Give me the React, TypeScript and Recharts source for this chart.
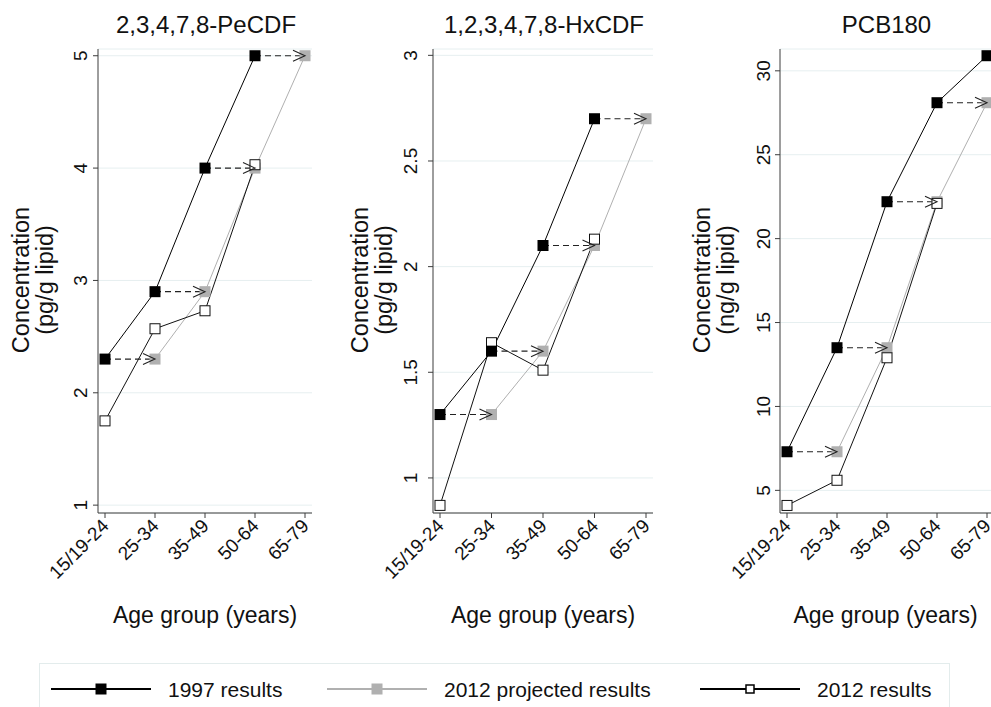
import React from 'react';
import { LineChart, Line, XAxis, YAxis, CartesianGrid } from 'recharts';

const AGE_GROUPS = ['15/19-24', '25-34', '35-49', '50-64', '65-79'];

// 2,3,4,7,8-PeCDF (pg/g lipid)
const PECDF_1997 = [2.3, 2.9, 4.0, 5.0, null];
const PECDF_PROJECTED = [null, 2.3, 2.9, 4.0, 5.0];
const PECDF_2012 = [1.75, 2.57, 2.73, 4.03, null];

// 1,2,3,4,7,8-HxCDF (pg/g lipid)
const HXCDF_1997 = [1.3, 1.6, 2.1, 2.7, null];
const HXCDF_PROJECTED = [null, 1.3, 1.6, 2.1, 2.7];
const HXCDF_2012 = [0.87, 1.64, 1.51, 2.13, null];

// PCB180 (ng/g lipid)
const PCB180_1997 = [7.3, 13.5, 22.2, 28.1, 30.9];
const PCB180_PROJECTED = [null, 7.3, 13.5, 22.2, 28.1];
const PCB180_2012 = [4.1, 5.6, 12.9, 22.1, null];

const PECDF_TICKS = [1, 2, 3, 4, 5];
const HXCDF_TICKS = [1, 1.5, 2, 2.5, 3];
const PCB180_TICKS = [5, 10, 15, 20, 25, 30];

const FONT = '"Liberation Sans", Arial, Helvetica, sans-serif';
const AXIS_COLOR = '#3c3c3c';
const GRID_COLOR = '#e6eff0';
const GREY = '#b0b0b0';
const CHART_H = 650;
const PLOT_TOP = 49;
const PLOT_BOTTOM = 513;

type Val = number | null;
type Row = Record<string, string | number | null>;

// one row per age group; shiftK holds the 1997 -> projected arrow k
function buildRows(r1997: Val[], projected: Val[], r2012: Val[]): Row[] {
  return AGE_GROUPS.map((age, i) => {
    const row: Row = { age, r1997: r1997[i], projected: projected[i], r2012: r2012[i] };
    for (let k = 0; k < AGE_GROUPS.length - 1; k++) {
      row[`shift${k}`] = i === k ? r1997[k] : i === k + 1 ? projected[k + 1] : null;
    }
    return row;
  });
}

const squareDot = (fill: string, stroke: string, size: number) => (props: any) => {
  const { cx, cy, index } = props;
  if (cx == null || cy == null || Number.isNaN(cy)) return <g key={`e${index}`} />;
  return (
    <rect
      key={`s${index}`}
      x={cx - size / 2}
      y={cy - size / 2}
      width={size}
      height={size}
      fill={fill}
      stroke={stroke}
      strokeWidth={stroke === 'none' ? 0 : 1}
    />
  );
};

const arrowHead = (end: number) => (props: any) => {
  const { cx, cy, index } = props;
  if (index !== end || cx == null || cy == null || Number.isNaN(cy)) return <g key={`e${index}`} />;
  return (
    <path
      key={`a${index}`}
      d={`M${cx - 12},${cy - 5.5} L${cx},${cy} L${cx - 12},${cy + 5.5}`}
      fill="none"
      stroke="#222"
      strokeWidth={1.1}
    />
  );
};

const XTick = (props: any) => {
  const { x, y, payload } = props;
  return (
    <g transform={`translate(${x + 5},${y + 7}) rotate(-45)`}>
      <text textAnchor="end" fontSize={19} fontFamily={FONT} fill="#111">
        {payload.value}
      </text>
    </g>
  );
};

const YTick = (props: any) => {
  const { x, y, payload } = props;
  const bx = x - 4;
  return (
    <text
      x={bx}
      y={y}
      transform={`rotate(-90, ${bx}, ${y})`}
      textAnchor="middle"
      fontSize={19}
      fontFamily={FONT}
      fill="#111"
    >
      {payload.value}
    </text>
  );
};

interface PanelProps {
  title: string;
  unit: string;
  rows: Row[];
  domain: [number, number];
  ticks: number[];
  left: number;
  width: number;
  axisWidth: number;
  marginRight: number;
  padRight: number;
  tickMargin: number;
  yTitleX: number;
}

function Panel(p: PanelProps) {
  const plotCenter = p.axisWidth + (p.width - p.axisWidth - p.marginRight) / 2;
  const arrows = AGE_GROUPS.slice(0, -1)
    .map((_, k) => k)
    .filter((k) => p.rows[k][`shift${k}`] != null && p.rows[k + 1][`shift${k}`] != null);

  return (
    <div style={{ position: 'absolute', left: p.left, top: 0, width: p.width, height: CHART_H }}>
      <svg width={p.width} height={40} style={{ position: 'absolute', left: 0, top: 0 }}>
        <text x={plotCenter + 1} y={33} textAnchor="middle" fontSize={24} fontFamily={FONT} fill="#111">
          {p.title}
        </text>
      </svg>
      <div style={{ position: 'absolute', left: 0, top: 0 }}>
        <LineChart
          width={p.width}
          height={CHART_H}
          data={p.rows}
          margin={{ top: PLOT_TOP, right: p.marginRight, bottom: 0, left: 0 }}
        >
          <CartesianGrid vertical={false} stroke={GRID_COLOR} strokeWidth={1} />
          <XAxis
            dataKey="age"
            padding={{ left: 7, right: p.padRight }}
            height={CHART_H - PLOT_BOTTOM}
            interval={0}
            tickSize={5}
            tickMargin={2}
            stroke={AXIS_COLOR}
            tickLine={{ stroke: AXIS_COLOR }}
            tick={<XTick />}
            label={(lp: any) => {
              const vb = lp.viewBox;
              return (
                <text
                  x={vb.x + vb.width / 2}
                  y={vb.y + 110}
                  textAnchor="middle"
                  fontSize={23}
                  fontFamily={FONT}
                  fill="#111"
                >
                  Age group (years)
                </text>
              );
            }}
          />
          <YAxis
            type="number"
            domain={p.domain}
            ticks={p.ticks}
            interval={0}
            width={p.axisWidth}
            tickSize={5}
            tickMargin={p.tickMargin}
            stroke={AXIS_COLOR}
            tickLine={{ stroke: AXIS_COLOR }}
            tick={<YTick />}
            label={(lp: any) => {
              const vb = lp.viewBox;
              const cy = vb.y + vb.height / 2 - 1;
              const bx = vb.x + p.yTitleX;
              return (
                <text
                  transform={`rotate(-90, ${bx}, ${cy})`}
                  x={bx}
                  y={cy}
                  textAnchor="middle"
                  fontSize={23.5}
                  fontFamily={FONT}
                  fill="#111"
                >
                  <tspan x={bx} dy={0}>Concentration</tspan>
                  <tspan x={bx} dy={24}>{`(${p.unit} lipid)`}</tspan>
                </text>
              );
            }}
          />
          <Line
            dataKey="projected"
            stroke={GREY}
            strokeWidth={1}
            dot={squareDot(GREY, 'none', 11)}
            activeDot={false}
            isAnimationActive={false}
          />
          <Line
            dataKey="r2012"
            stroke="#111"
            strokeWidth={1}
            dot={squareDot('#fff', '#111', 10)}
            activeDot={false}
            isAnimationActive={false}
          />
          {arrows.map((k) => (
            <Line
              key={`shift${k}`}
              dataKey={`shift${k}`}
              stroke="#222"
              strokeWidth={1.1}
              strokeDasharray="6 4"
              dot={arrowHead(k + 1)}
              activeDot={false}
              isAnimationActive={false}
            />
          ))}
          <Line
            dataKey="r1997"
            stroke="#000"
            strokeWidth={1}
            dot={squareDot('#000', 'none', 11)}
            activeDot={false}
            isAnimationActive={false}
          />
        </LineChart>
      </div>
    </div>
  );
}

function LegendBox() {
  const y = 689;
  const items = [
    { x: 51, label: '1997 results', stroke: '#000', fill: '#000', edge: 'none', size: 11 },
    { x: 327, label: '2012 projected results', stroke: GREY, fill: GREY, edge: 'none', size: 11 },
    { x: 700, label: '2012 results', stroke: '#000', fill: '#fff', edge: '#000', size: 8 },
  ];
  return (
    <svg width={991} height={707} style={{ position: 'absolute', left: 0, top: 0, pointerEvents: 'none' }}>
      <rect x={39.5} y={663.5} width={910} height={60} fill="none" stroke="#e3ecec" />
      {items.map((it) => (
        <g key={it.label}>
          <line x1={it.x} x2={it.x + 100} y1={y} y2={y} stroke={it.stroke} strokeWidth={2} />
          <rect
            x={it.x + 50 - it.size / 2}
            y={y - it.size / 2}
            width={it.size}
            height={it.size}
            fill={it.fill}
            stroke={it.edge}
            strokeWidth={it.edge === 'none' ? 0 : 1.5}
          />
          <text x={it.x + 117} y={y + 8} fontSize={21} fontFamily={FONT} fill="#111">
            {it.label}
          </text>
        </g>
      ))}
    </svg>
  );
}

export default function App() {
  return (
    <div
      style={{
        position: 'absolute',
        left: 0,
        top: 0,
        width: 991,
        height: 707,
        background: '#fff',
        overflow: 'hidden',
        fontFamily: FONT,
      }}
    >
      <Panel
        title="2,3,4,7,8-PeCDF"
        unit="pg/g"
        rows={buildRows(PECDF_1997, PECDF_PROJECTED, PECDF_2012)}
        domain={[0.93, 5.06]}
        ticks={PECDF_TICKS}
        left={0}
        width={330}
        axisWidth={98}
        marginRight={18}
        padRight={7}
        tickMargin={2}
        yTitleX={29}
      />
      <Panel
        title="1,2,3,4,7,8-HxCDF"
        unit="pg/g"
        rows={buildRows(HXCDF_1997, HXCDF_PROJECTED, HXCDF_2012)}
        domain={[0.834, 3.03]}
        ticks={HXCDF_TICKS}
        left={330}
        width={330}
        axisWidth={103}
        marginRight={7}
        padRight={7}
        tickMargin={7}
        yTitleX={38}
      />
      <Panel
        title="PCB180"
        unit="ng/g"
        rows={buildRows(PCB180_1997, PCB180_PROJECTED, PCB180_2012)}
        domain={[3.65, 31.3]}
        ticks={PCB180_TICKS}
        left={660}
        width={331}
        axisWidth={120}
        marginRight={0}
        padRight={4}
        tickMargin={1}
        yTitleX={50}
      />
      <LegendBox />
    </div>
  );
}
